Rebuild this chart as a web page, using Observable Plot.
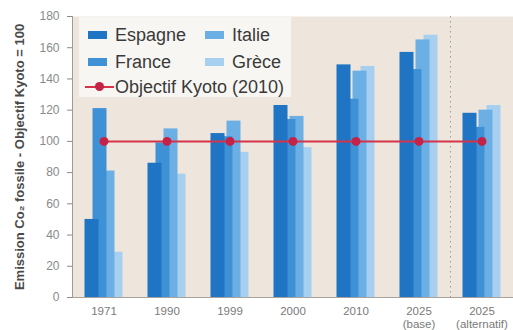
<!DOCTYPE html>
<html><head><meta charset="utf-8">
<script src="https://cdn.jsdelivr.net/npm/d3@7"></script>
<script src="https://cdn.jsdelivr.net/npm/@observablehq/plot@0.6"></script>
<style>
body{margin:0;background:#fff;font-family:"Liberation Sans",Arial,sans-serif;}
#wrap{position:relative;width:513px;height:330px;overflow:hidden;}
#legend{position:absolute;left:79px;top:17px;width:212px;height:80px;background:rgba(249,247,244,0.92);}
.item{position:absolute;height:22px;display:flex;align-items:center;font-size:18px;color:#3a3a3a;white-space:nowrap;}
.sw{width:19px;height:8px;margin-right:8px;}
.kl{position:relative;width:29px;height:2px;margin-right:1px;}
.kd{position:absolute;left:10px;top:-4px;width:9px;height:9px;border-radius:50%;}
</style>
</head><body>
<div id="wrap"><div id="chart"></div><div id="legend"></div></div>
<script>
const periods = ["1971","1990","1999","2000","2010","2025 (base)","2025 (alternatif)"];
const tickLabels = ["1971","1990","1999","2000","2010","2025\n(base)","2025\n(alternatif)"];
const series = ["Espagne","France","Italie","Grèce"];
const colors = ["#1f74c3","#3f91d6","#6cafe4","#a7cfef"];
const espagne = [50, 86, 105, 123, 149, 157, 118];
const france  = [121, 99, 103, 114, 127, 146, 109];
const italie  = [81, 108, 113, 116, 145, 165, 120];
const grece   = [29, 79, 93, 96, 148, 168, 123];
const kyoto   = [100, 100, 100, 100, 100, 100, 100];
const kyotoLabel = "Objectif Kyoto (2010)";
const kyotoColor = "#d3344a";
const yTicks = [0,20,40,60,80,100,120,140,160,180];
const yTitle = "Emission Co\u2082 fossile - Objectif Kyoto = 100";
const splitAt = "2025 (base)";

const values = [espagne, france, italie, grece];
const W = 513, H = 330, mL = 72, mR = 0, mT = 16, mB = 33;
const step = (W - mL - mR) / periods.length;
const barW = 14, off = 8;
const inset = (step - barW) / 2;

const barMarks = [];
for (let i = series.length - 1; i >= 0; i--) {
  const d = periods.map((p, j) => ({period: p, value: values[i][j], series: series[i]}));
  barMarks.push(Plot.barY(d, {x: "period", y: "value", fill: colors[i], insetLeft: inset, insetRight: inset, dx: (i - 1.5) * off}));
}
const kData = periods.map((p, j) => ({period: p, value: kyoto[j]}));

const chart = Plot.plot({
  width: W, height: H,
  marginLeft: mL, marginRight: mR, marginTop: mT, marginBottom: mB,
  style: {fontFamily: '"Liberation Sans", Arial, sans-serif', background: "#fff"},
  x: {type: "band", domain: periods, padding: 0},
  y: {domain: [0, 180]},
  marks: [
    Plot.frame({fill: "#eee6dc", stroke: null}),
    Plot.ruleX([splitAt], {dx: step / 2, stroke: "#9a9a9a", strokeDasharray: "1.5,3.5", strokeWidth: 1}),
    ...barMarks,
    Plot.lineY(kData, {x: "period", y: "value", stroke: kyotoColor, strokeWidth: 2}),
    Plot.dot(kData, {x: "period", y: "value", fill: "#c42347", r: 4.5}),
    Plot.frame({anchor: "left", stroke: "#a09a94"}),
    Plot.frame({anchor: "bottom", stroke: "#a8a29c"}),
    Plot.axisY({ticks: yTicks, tickSize: 5, tickPadding: 8, label: null, fontSize: 12, color: "#8a8a8a"}),
    Plot.axisX({tickFormat: d => tickLabels[periods.indexOf(d)], tickSize: 0, tickPadding: 8, label: null, fontSize: 11.5, lineHeight: 1.15, color: "#7a7a7a"}),
    Plot.text([yTitle], {frameAnchor: "left", textAnchor: "middle", rotate: -90, dx: -53, fontWeight: "bold", fontSize: 13, fill: "#4a4a4a"})
  ]
});
document.getElementById("chart").appendChild(chart);

const legend = document.getElementById("legend");
const pos = [[9, 7], [9, 34], [126, 7], [126, 34]];
series.forEach((s, i) => {
  const it = document.createElement("div");
  it.className = "item";
  it.style.left = pos[i][0] + "px"; it.style.top = pos[i][1] + "px";
  it.innerHTML = `<span class="sw" style="background:${colors[i]}"></span>${s}`;
  legend.appendChild(it);
});
const k = document.createElement("div");
k.className = "item";
k.style.left = "6px"; k.style.top = "59px";
k.innerHTML = `<span class="kl" style="background:${kyotoColor}"><span class="kd" style="background:#c42347"></span></span>${kyotoLabel}`;
legend.appendChild(k);
</script>
</body></html>
